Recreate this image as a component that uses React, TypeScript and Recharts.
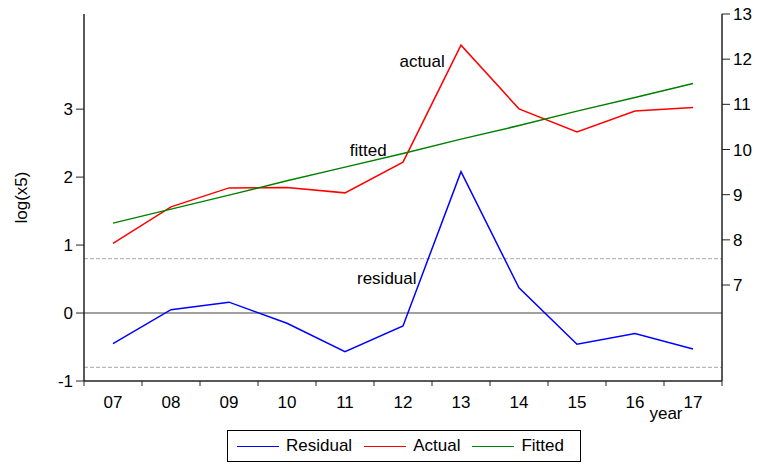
import React from 'react';
import { LineChart, Line, XAxis, YAxis, ReferenceLine, ReferenceDot, Legend } from 'recharts';

const years = ['07', '08', '09', '10', '11', '12', '13', '14', '15', '16', '17'];
const residual = [-0.45, 0.05, 0.16, -0.15, -0.57, -0.19, 2.08, 0.37, -0.46, -0.30, -0.53];
const actual = [7.92, 8.73, 9.15, 9.16, 9.04, 9.72, 12.31, 10.90, 10.39, 10.85, 10.93];
const fitted = [8.37, 8.68, 8.99, 9.31, 9.61, 9.91, 10.23, 10.53, 10.85, 11.15, 11.46];
const leftTicks = [-1, 0, 1, 2, 3];
const rightTicks = [7, 8, 9, 10, 11, 12, 13];
const seBand = 0.8;
const boundaryTicks = [0, 1, 2, 3, 4, 5, 6, 7, 8, 9, 10, 11];

const data = years.map((y, i) => ({
  idx: i + 0.5,
  year: y,
  residual: residual[i],
  actual: actual[i],
  fitted: fitted[i],
}));

const FONT = '"Liberation Sans", Arial, sans-serif';
const FS = 17;
const FRAME = '#222222';

const series = [
  { key: 'residual', name: 'Residual', color: '#0000ff' },
  { key: 'actual', name: 'Actual', color: '#ff0000' },
  { key: 'fitted', name: 'Fitted', color: '#008000' },
];

const XTick = (props: any) => {
  const { x, y, payload } = props;
  const v = payload.value;
  const half = 29;
  if (v < years.length) {
    return (
      <text x={x + half} y={y + 20} textAnchor="middle" fontSize={FS} fontFamily={FONT} fill="#000">
        {years[v]}
      </text>
    );
  }
  return (
    <text x={x - 56} y={y + 31} textAnchor="middle" fontSize={FS} fontFamily={FONT} fill="#000">
      year
    </text>
  );
};

const LegendBox = () => (
  <div
    style={{
      boxSizing: 'border-box',
      width: '100%',
      height: '100%',
      border: '1px solid #000',
      display: 'flex',
      alignItems: 'center',
      paddingLeft: 9,
      fontFamily: FONT,
      fontSize: FS,
      color: '#000',
    }}
  >
    {series.map((s, i) => (
      <div key={s.key} style={{ display: 'flex', alignItems: 'center', marginRight: i < 2 ? 12 : 0 }}>
        <div style={{ width: 42, height: 0, borderTop: `1.5px solid ${s.color}`, marginRight: 7 }} />
        <span>{s.name}</span>
      </div>
    ))}
  </div>
);

const YLabel = (props: any) => {
  const vb = props.viewBox || { x: 0, y: 14, width: 84, height: 367 };
  const cx = vb.x + 21;
  const cy = vb.y + vb.height / 2;
  return (
    <text x={cx} y={cy} transform={`rotate(-90, ${cx}, ${cy})`} textAnchor="middle" dominantBaseline="central" fontSize={FS} fontFamily={FONT} fill="#000">
      log(x5)
    </text>
  );
};

export default function App() {
  return (
    <div style={{ position: 'absolute', left: 0, top: 0, fontFamily: FONT, background: '#fff' }}>
      <LineChart width={758} height={464} data={data} margin={{ top: 14, right: 0, left: 0, bottom: 33 }}>
        <XAxis
          xAxisId="main"
          dataKey="idx"
          type="number"
          domain={[0, years.length]}
          ticks={boundaryTicks}
          interval={0}
          allowDataOverflow
          height={50}
          tickSize={5}
          axisLine={{ stroke: FRAME, strokeWidth: 1.5 }}
          tickLine={{ stroke: FRAME }}
          tick={<XTick />}
        />
        <XAxis
          xAxisId="top"
          orientation="top"
          type="number"
          dataKey="idx"
          domain={[0, years.length]}
          height={0}
          tick={false}
          tickLine={false}
          axisLine={{ stroke: FRAME, strokeWidth: 1.5 }}
        />
        <YAxis
          yAxisId="left"
          type="number"
          domain={[-1, 4.4]}
          ticks={leftTicks}
          interval={0}
          allowDataOverflow
          width={84}
          tickSize={8}
          tickMargin={3}
          axisLine={{ stroke: FRAME, strokeWidth: 1.5 }}
          tickLine={{ stroke: FRAME }}
          tick={{ fontSize: FS, fontFamily: FONT, fill: '#000' }}
          label={<YLabel />}
        />
        <YAxis
          yAxisId="right"
          orientation="right"
          type="number"
          domain={[4.875, 13]}
          ticks={rightTicks}
          interval={0}
          allowDataOverflow
          width={36}
          tickSize={8}
          tickMargin={3}
          axisLine={{ stroke: FRAME, strokeWidth: 1.5 }}
          tickLine={{ stroke: FRAME }}
          tick={{ fontSize: FS, fontFamily: FONT, fill: '#000', textAnchor: 'start' }}
        />
        <ReferenceLine xAxisId="main" yAxisId="left" y={seBand} stroke="#b8b8b8" strokeDasharray="4 2" strokeWidth={1.2} />
        <ReferenceLine xAxisId="main" yAxisId="left" y={-seBand} stroke="#b8b8b8" strokeDasharray="4 2" strokeWidth={1.2} />
        <ReferenceLine xAxisId="main" yAxisId="left" y={0} stroke="#808080" strokeWidth={1.6} />
        <Line xAxisId="main" yAxisId="left" dataKey="residual" name="Residual" stroke="#0000ff" strokeWidth={1.5} dot={false} isAnimationActive={false} />
        <Line xAxisId="main" yAxisId="right" dataKey="actual" name="Actual" stroke="#ff0000" strokeWidth={1.5} dot={false} isAnimationActive={false} />
        <Line xAxisId="main" yAxisId="right" dataKey="fitted" name="Fitted" stroke="#008000" strokeWidth={1.5} dot={false} isAnimationActive={false} />
        <ReferenceDot xAxisId="main" yAxisId="right" x={5.83} y={11.96} r={0} fill="none" stroke="none"
          label={{ value: 'actual', position: 'center', fontSize: FS, fontFamily: FONT, fill: '#000' }} />
        <ReferenceDot xAxisId="main" yAxisId="right" x={4.9} y={9.99} r={0} fill="none" stroke="none"
          label={{ value: 'fitted', position: 'center', fontSize: FS, fontFamily: FONT, fill: '#000' }} />
        <ReferenceDot xAxisId="main" yAxisId="left" x={5.22} y={0.51} r={0} fill="none" stroke="none"
          label={{ value: 'residual', position: 'center', fontSize: FS, fontFamily: FONT, fill: '#000' }} />
        <Legend
          layout="horizontal"
          verticalAlign="middle"
          align="center"
          content={<LegendBox />}
          wrapperStyle={{ left: 227, top: 430, width: 354, height: 32 }}
        />
      </LineChart>
    </div>
  );
}
